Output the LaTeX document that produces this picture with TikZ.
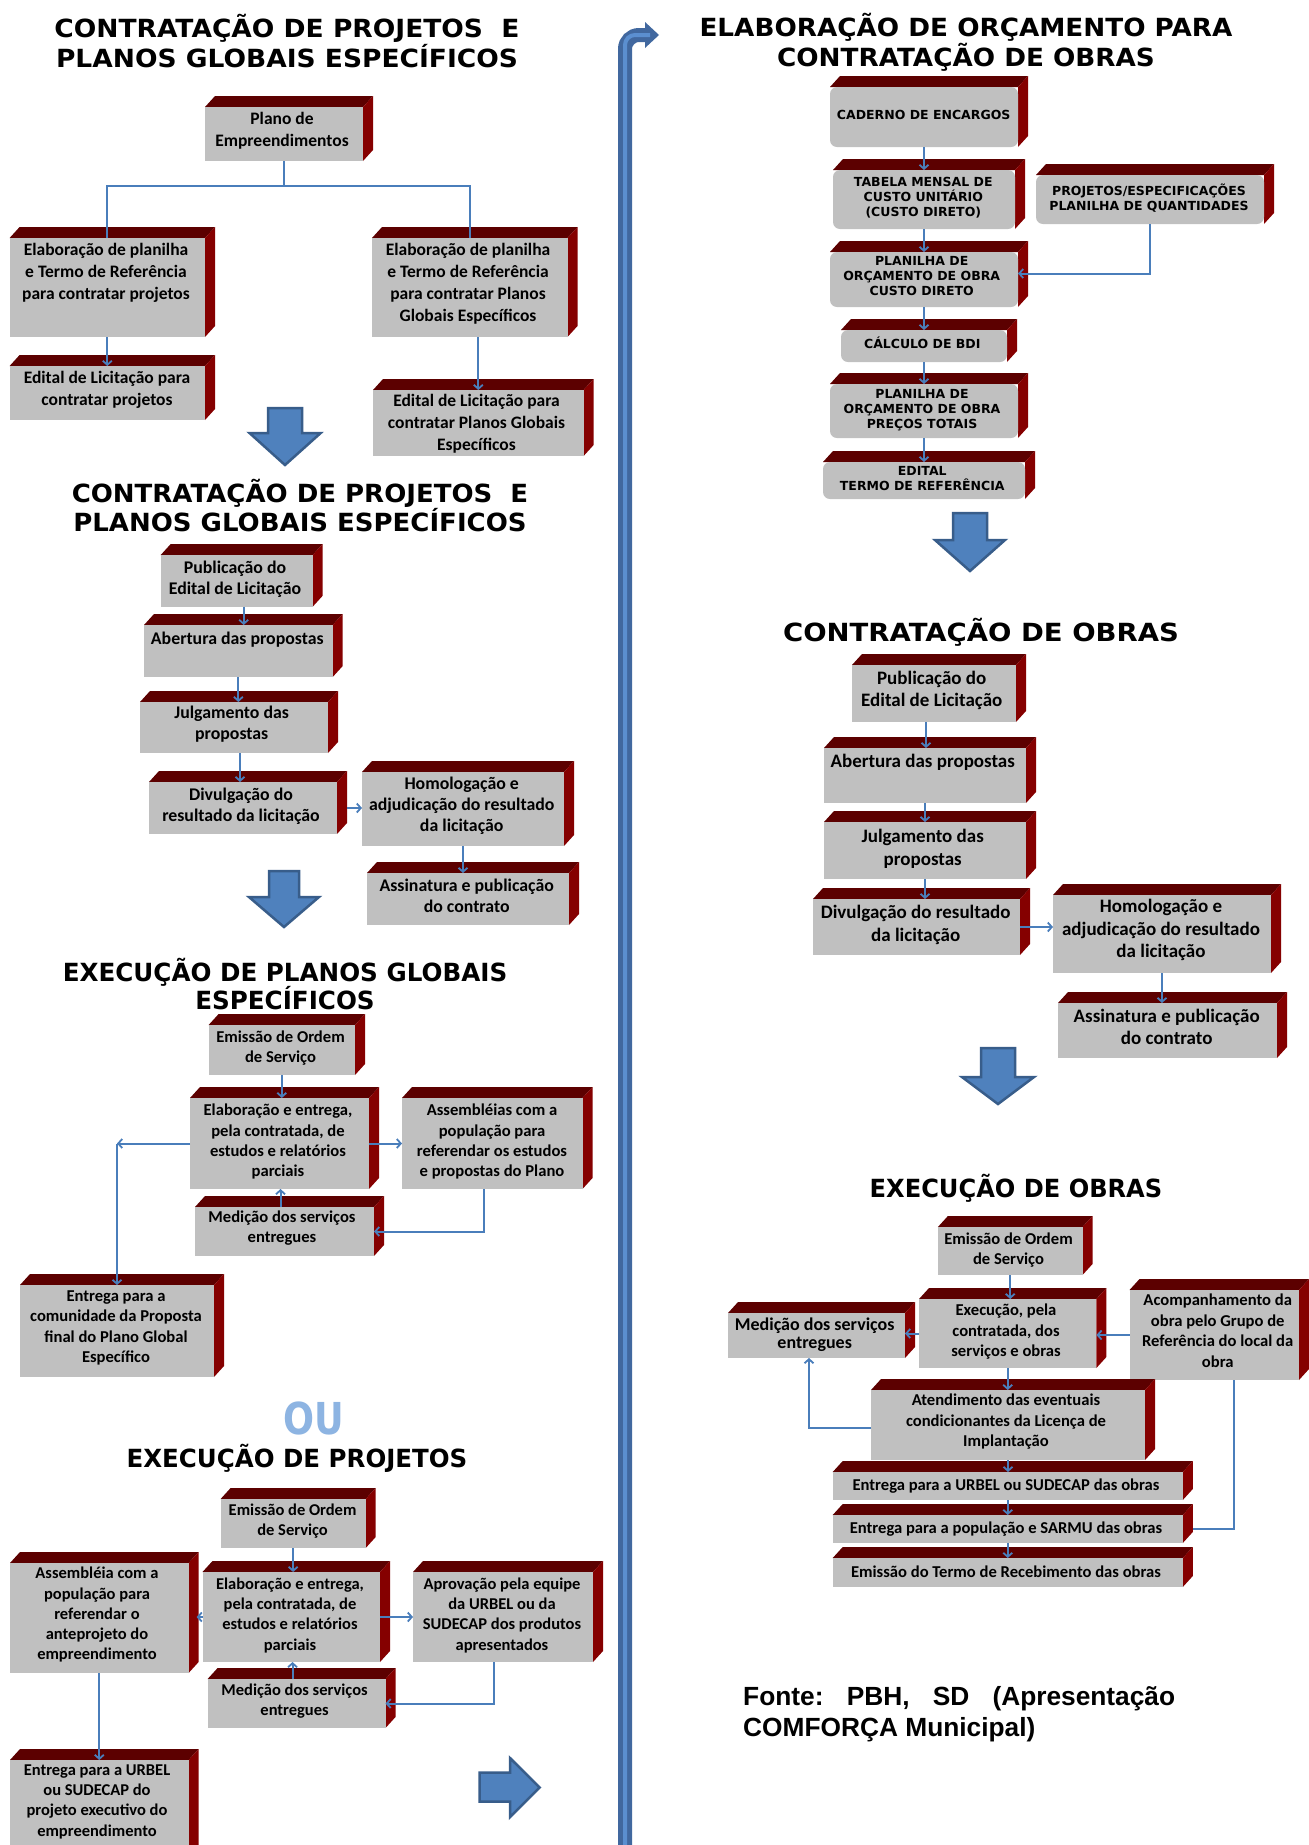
\documentclass[tikz,border=0pt]{standalone}
\usepackage{fontspec}
\usepackage{graphicx}
\setmainfont{Carlito}
\newfontfamily\ttlfont{DejaVu Sans}
\newfontfamily\srcfont{Liberation Sans}
\usetikzlibrary{arrows.meta,fit,calc}
\definecolor{frontc}{HTML}{C0C0C0}
\definecolor{topc}{HTML}{5C0000}
\definecolor{sidec}{HTML}{850000}
\definecolor{linec}{HTML}{4A7EBB}
\definecolor{blkf}{HTML}{4F81BD}
\definecolor{blkd}{HTML}{385D8A}
\definecolor{oucol}{HTML}{8DB4E2}
\definecolor{barc}{HTML}{41689F}
\definecolor{barlight}{HTML}{5B8FD0}
\newcommand\mkcube[6][]{%
  \node[fit={(#3,#4) (#5,#6)}, inner sep=0pt, outer sep=0pt] (#2) {};
  \fill[topc] (#2.north west) -- ++(10,-11) -- ([shift={(10,-11)}]#2.north east) -- (#2.north east) -- cycle;
  \fill[sidec] (#2.north east) -- ++(10,-11) -- ([shift={(10,-11)}]#2.south east) -- (#2.south east) -- cycle;
  \fill[frontc,#1] (#2.north west) rectangle (#2.south east);
}
\newcommand\ttlx[2][1.04]{\scalebox{#1}[1]{#2}}
\tikzset{
  bt/.style={align=center, inner sep=0pt, execute at begin node=\strut, execute at end node=\strut},
  sa/.style={bt,font=\bfseries\fontsize{17.5}{22}\selectfont},
  sb/.style={bt,font=\bfseries\fontsize{17.8}{21}\selectfont},
  sc/.style={bt,font=\bfseries\fontsize{16.6}{20.3}\selectfont},
  sd/.style={bt,font=\bfseries\fontsize{16.5}{20.2}\selectfont},
  rb/.style={bt,font=\bfseries\fontsize{19}{22.5}\selectfont},
  rc/.style={bt,font=\bfseries\fontsize{16.6}{20.5}\selectfont},
  capt/.style={bt,font=\ttlfont\bfseries\fontsize{12.5}{15}\selectfont},
  ttl/.style={inner sep=0pt, anchor=base, font=\ttlfont\bfseries\fontsize{25}{30}\selectfont},
  ln/.style={draw=linec, line width=2pt},
  arr/.style={ln, -{Straight Barb[length=4pt,width=9pt,line width=1.8pt]}},
  blk/.style={fill=blkf, draw=blkd, line width=2.5pt, line join=miter},
}
\begin{document}
\begin{tikzpicture}[x=1pt,y=-1pt]
\fill[white] (0,0) rectangle (1309,1845);
\useasboundingbox (0,0) rectangle (1309,1845);

% ---------- vertical divider ----------
\draw[barc, line width=14pt, rounded corners=14pt] (625,1860) -- (625,35) -- (647,35);
\fill[barc] (645,22) -- (659,35) -- (645,48) -- cycle;
\draw[barlight, line width=4pt, rounded corners=10pt] (625,1860) -- (625,35) -- (650,35);

% ---------- Section 1 ----------
\node[ttl] (t1a) at (287,37) {\ttlx[1.06]{CONTRATAÇÃO DE PROJETOS \ E}};
\node[ttl] (t1b) at (287,67) {\ttlx[1.06]{PLANOS GLOBAIS ESPECÍFICOS}};
\mkcube{plano}{205}{107}{363}{161}
\node[sa] (planoT) at (282,132.5) {Plano de\\Empreendimentos};
\mkcube{elA}{9.6}{238}{205}{337}
\node[sa] (elAT) at (106,275) {Elaboração de planilha\\e Termo de Referência\\para contratar projetos};
\mkcube{elB}{372}{238}{567.5}{337}
\node[sa] (elBT) at (468,286) {Elaboração de planilha\\e Termo de Referência\\para contratar Planos\\Globais Específicos};
\mkcube{edA}{9.6}{366}{205}{420}
\node[sa] (edAT) at (107,392) {Edital de Licitação para\\contratar projetos};
\mkcube{edB}{373}{390}{583.6}{456}
\node[sa] (edBT) at (476.5,426) {Edital de Licitação para\\contratar Planos Globais\\Específicos};
\coordinate (j1) at ($(plano.south)+(0,25)$);
\draw[ln] (plano.south) -- (j1);
\draw[ln] (elA.north) |- (j1) -| (elB.north);
\draw[arr] (elA.south) -- (edA.north);
\draw[arr] (elB.south -| edB.north) -- (edB.north);
\draw[blk] (268,408) -- (302,408) -- (302,433) -- (320.7,433) -- (285,465) -- (249.5,433) -- (268,433) -- cycle;

% ---------- Section 2 ----------
\node[ttl] (t2a) at (300,502) {\ttlx{CONTRATAÇÃO DE PROJETOS \ E}};
\node[ttl] (t2b) at (300,531.6) {\ttlx{PLANOS GLOBAIS ESPECÍFICOS}};
\mkcube{pubA}{160.7}{555}{312.7}{606.7}
\node[sb] (pubAT) at (235,580.5) {Publicação do\\Edital de Licitação};
\mkcube{abA}{144}{625}{332.7}{677}
\node[sb] (abAT) at (237.3,640) {Abertura das propostas};
\mkcube{juA}{140}{702}{328}{753}
\node[sb] (juAT) at (231.7,726) {Julgamento das\\propostas};
\mkcube{diA}{149}{782}{337}{834}
\node[sb] (diAT) at (241,807.5) {Divulgação do\\resultado da licitação};
\mkcube{hoA}{362}{772}{564}{846}
\node[sb] (hoAT) at (461.7,807) {Homologação e\\adjudicação do resultado\\da licitação};
\mkcube{asA}{367}{873}{569}{925}
\node[sb] (asAT) at (466.7,898.5) {Assinatura e publicação\\do contrato};
\draw[arr] ([xshift=7pt]pubA.south) -- ([xshift=7pt]pubA.south |- abA.north);
\draw[arr] (abA.south) -- (abA.south |- juA.north);
\draw[arr] ([xshift=6pt]juA.south) -- ([xshift=6pt]juA.south |- diA.north);
\draw[arr] ([xshift=10pt]diA.east) -- (diA.east -| hoA.west);
\draw[arr] (hoA.south) -- (hoA.south |- asA.north);
\draw[blk] (269,871) -- (299,871) -- (299,897) -- (319,897) -- (284,927) -- (249,897) -- (269,897) -- cycle;

% ---------- Section 3 ----------
\node[ttl] (t3a) at (285,981) {\ttlx[0.985]{EXECUÇÃO DE PLANOS GLOBAIS}};
\node[ttl] (t3b) at (285,1009.6) {\ttlx[0.985]{ESPECÍFICOS}};
\mkcube{emA}{208.6}{1025}{355}{1075}
\node[sc] (emAT) at (280.5,1050) {Emissão de Ordem\\de Serviço};
\mkcube{elC}{190}{1098}{369}{1189}
\node[sc] (elCT) at (278,1143.5) {Elaboração e entrega,\\pela contratada, de\\estudos e relatórios\\parciais};
\mkcube{asC}{402}{1098}{582.5}{1189}
\node[sc] (asCT) at (492,1143.5) {Assembléias com a\\população para\\referendar os estudos\\e propostas do Plano};
\mkcube{meA}{195}{1207}{374}{1256}
\node[sc] (meAT) at (282,1229.5) {Medição dos serviços\\entregues};
\mkcube{enA}{20}{1285}{214}{1377}
\node[sc] (enAT) at (116,1329.5) {Entrega para a\\comunidade da Proposta\\final do Plano Global\\Específico};
\draw[arr] (emA.south) -- (emA.south |- elC.north);
\draw[arr] (elC.east) -- (asC.west);
\draw[arr] ([xshift=-8pt]asC.south) |- (meA.east);
\draw[arr] ([xshift=-4pt]meA.north) -- ([xshift=-4pt]meA.north |- elC.south);
\coordinate (c3) at (elC.west -| enA.north);
\draw[arr] (elC.west) -- (c3);
\draw[arr] (c3) -- (enA.north);

\node[inner sep=0pt, anchor=base, text=oucol, font=\ttlfont\bfseries\fontsize{44}{44}\selectfont] (ou) at (313.5,1434) {\scalebox{0.83}[1]{OU}};

% ---------- Section 4 ----------
\node[ttl] (t4) at (297,1467) {\ttlx[0.98]{EXECUÇÃO DE PROJETOS}};
\mkcube{emB}{220.6}{1499}{365.7}{1548}
\node[sd] (emBT) at (292.6,1523) {Emissão de Ordem\\de Serviço};
\mkcube{elD}{202.5}{1572}{380}{1662}
\node[sd] (elDT) at (290,1617) {Elaboração e entrega,\\pela contratada, de\\estudos e relatórios\\parciais};
\mkcube{apB}{413}{1572}{593}{1662}
\node[sd] (apBT) at (502,1617) {Aprovação pela equipe\\da URBEL ou da\\SUDECAP dos produtos\\apresentados};
\mkcube{meB}{207.6}{1679}{385.5}{1728}
\node[sd] (meBT) at (294.6,1702.5) {Medição dos serviços\\entregues};
\mkcube{asB}{10}{1563}{188.6}{1673}
\node[sd] (asBT) at (97,1616.5) {Assembléia com a\\população para\\referendar o\\anteprojeto do\\empreendimento};
\mkcube{enB}{10}{1760}{188.6}{1860}
\node[sd] (enBT) at (97,1803.5) {Entrega para a URBEL\\ou SUDECAP do\\projeto executivo do\\empreendimento};
\draw[arr] (emB.south) -- (emB.south |- elD.north);
\draw[arr] (elD.east) -- (apB.west);
\draw[arr] ([xshift=-9pt]apB.south) |- (meB.east);
\draw[arr] ([xshift=-4pt]meB.north) -- ([xshift=-4pt]meB.north |- elD.south);
\draw[arr] (asB.south) -- (asB.south |- enB.north);
\draw[arr] (elD.west) -- ([xshift=8pt]elD.west -| asB.east);
\draw[blk] (479.6,1772.7) -- (510,1772.7) -- (510,1758) -- (539.7,1787.5) -- (510,1817) -- (510,1801.7) -- (479.6,1801.7) -- cycle;

% ---------- Right section 1 ----------
\node[ttl] (r1a) at (966,36.5) {\ttlx[1.05]{ELABORAÇÃO DE ORÇAMENTO PARA}};
\node[ttl] (r1b) at (966,66.5) {\ttlx[1.05]{CONTRATAÇÃO DE OBRAS}};
\mkcube[rounded corners=7pt]{cad}{830}{87}{1018}{147}
\node[capt] (cadT) at (923.7,116) {CADERNO DE ENCARGOS};
\mkcube[rounded corners=7pt]{tab}{833}{170}{1015}{229}
\node[capt] (tabT) at (923.3,199) {TABELA MENSAL DE\\CUSTO UNITÁRIO\\(CUSTO DIRETO)};
\mkcube[rounded corners=7pt]{proj}{1036}{175}{1264}{224}
\node[capt] (projT) at (1149,199.5) {PROJETOS/ESPECIFICAÇÕES\\PLANILHA DE QUANTIDADES};
\mkcube[rounded corners=7pt]{plA}{830}{252}{1018}{307}
\node[capt] (plAT) at (921.7,278.5) {PLANILHA DE\\ORÇAMENTO DE OBRA\\CUSTO DIRETO};
\mkcube[rounded corners=7pt]{bdi}{841}{330}{1007}{362}
\node[capt] (bdiT) at (922.3,345) {CÁLCULO DE BDI};
\mkcube[rounded corners=7pt]{plB}{830}{384}{1018}{438}
\node[capt] (plBT) at (922,411.5) {PLANILHA DE\\ORÇAMENTO DE OBRA\\PREÇOS TOTAIS};
\mkcube[rounded corners=7pt]{edi}{823}{462}{1025}{499}
\node[capt] (ediT) at (922.3,480.5) {EDITAL\\TERMO DE REFERÊNCIA};
\draw[arr] (cad.south) -- (cad.south |- tab.north);
\draw[arr] (tab.south) -- (tab.south |- plA.north);
\draw[arr] (plA.south) -- (plA.south |- bdi.north);
\draw[arr] (bdi.south) -- (bdi.south |- plB.north);
\draw[arr] (plB.south) -- (plB.south |- edi.north);
\draw[arr] (proj.south) |- ([yshift=6pt]plA.east);
\draw[blk] (953,513) -- (987,513) -- (987,540) -- (1005,540) -- (970,571) -- (935,540) -- (953,540) -- cycle;

% ---------- Right section 2 ----------
\node[ttl] (r2) at (981,641) {\ttlx[1.1]{CONTRATAÇÃO DE OBRAS}};
\mkcube{pubC}{852}{665}{1016}{722}
\node[rb] (pubCT) at (931.7,692) {Publicação do\\Edital de Licitação};
\mkcube{abC}{824}{748}{1026}{803}
\node[rb] (abCT) at (922.7,763) {Abertura das propostas};
\mkcube{juC}{824}{822}{1026}{879}
\node[rb] (juCT) at (922.7,850.5) {Julgamento das\\propostas};
\mkcube{diC}{813}{899}{1020}{955}
\node[rb] (diCT) at (915.7,926.5) {Divulgação do resultado\\da licitação};
\mkcube{hoC}{1053}{895}{1271}{973}
\node[rb] (hoCT) at (1161,932) {Homologação e\\adjudicação do resultado\\da licitação};
\mkcube{asD}{1058}{1003}{1277}{1058}
\node[rb] (asDT) at (1166.7,1030) {Assinatura e publicação\\do contrato};
\draw[arr] ([xshift=-8pt]pubC.south) -- ([xshift=-8pt]pubC.south |- abC.north);
\draw[arr] (abC.south) -- (abC.south |- juC.north);
\draw[arr] (juC.south) -- (juC.south |- diC.north);
\draw[arr] (diC.east) -- (diC.east -| hoC.west);
\draw[arr] (hoC.south) -- (hoC.south |- asD.north);
\draw[blk] (981,1048) -- (1015,1048) -- (1015,1077) -- (1034,1077) -- (998,1104) -- (962,1077) -- (981,1077) -- cycle;

% ---------- Right section 3 ----------
\node[ttl] (r3) at (1016,1197) {\ttlx[0.965]{EXECUÇÃO DE OBRAS}};
\mkcube{emC}{937.9}{1227}{1082.5}{1275}
\node[rc] (emCT) at (1008.5,1251.5) {Emissão de Ordem\\de Serviço};
\mkcube{exC}{919}{1299}{1096.4}{1368}
\node[rc] (exCT) at (1006,1333.5) {Execução, pela\\contratada, dos\\serviços e obras};
\mkcube{acC}{1129.5}{1290}{1299}{1380}
\node[rc] (acCT) at (1217.7,1333.5) {Acompanhamento da\\obra pelo Grupo de\\Referência do local da\\obra};
\mkcube{meC}{728}{1313}{905}{1358}
\node[bt, font=\bfseries\fontsize{18}{18.5}\selectfont] (meCT) at (814.7,1336) {Medição dos serviços\\entregues};
\mkcube{atC}{871}{1390}{1145}{1460}
\node[rc] (atCT) at (1006,1423.5) {Atendimento das eventuais\\condicionantes da Licença de\\Implantação};
\mkcube{urC}{832.7}{1472}{1182.8}{1500}
\node[rc] (urCT) at (1006,1486) {Entrega para a URBEL ou SUDECAP das obras};
\mkcube{poC}{832.7}{1515}{1182.8}{1543}
\node[rc] (poCT) at (1006,1529) {Entrega para a população e SARMU das obras};
\mkcube{tmC}{832.7}{1558}{1182.8}{1587}
\node[rc] (tmCT) at (1006,1573) {Emissão do Termo de Recebimento das obras};
\draw[arr] (emC.south) -- (emC.south |- exC.north);
\draw[arr] (acC.west) -- (acC.west -| exC.east);
\draw[arr] (exC.west) -- (exC.west -| meC.east);
\draw[arr] ([yshift=-3pt]atC.west) -| ([xshift=-7.5pt]meC.south);
\draw[arr] (exC.south) -- (exC.south |- atC.north);
\draw[arr] (atC.south) -- (atC.south |- urC.north);
\draw[arr] (urC.south) -- (urC.south |- poC.north);
\draw[arr] (poC.south) -- (poC.south |- tmC.north);
\draw[ln] ([xshift=20pt]acC.south) |- ([xshift=10pt]poC.east);

% ---------- Source ----------
\node[inner sep=0pt, anchor=base west, font=\srcfont\bfseries\fontsize{26.3}{31}\selectfont] (src) at (743,1705)
  {\parbox[t]{432pt}{Fonte:\hfill PBH,\hfill SD\hfill (Apresentação\\COMFORÇA Municipal)}};
\end{tikzpicture}
\end{document}
